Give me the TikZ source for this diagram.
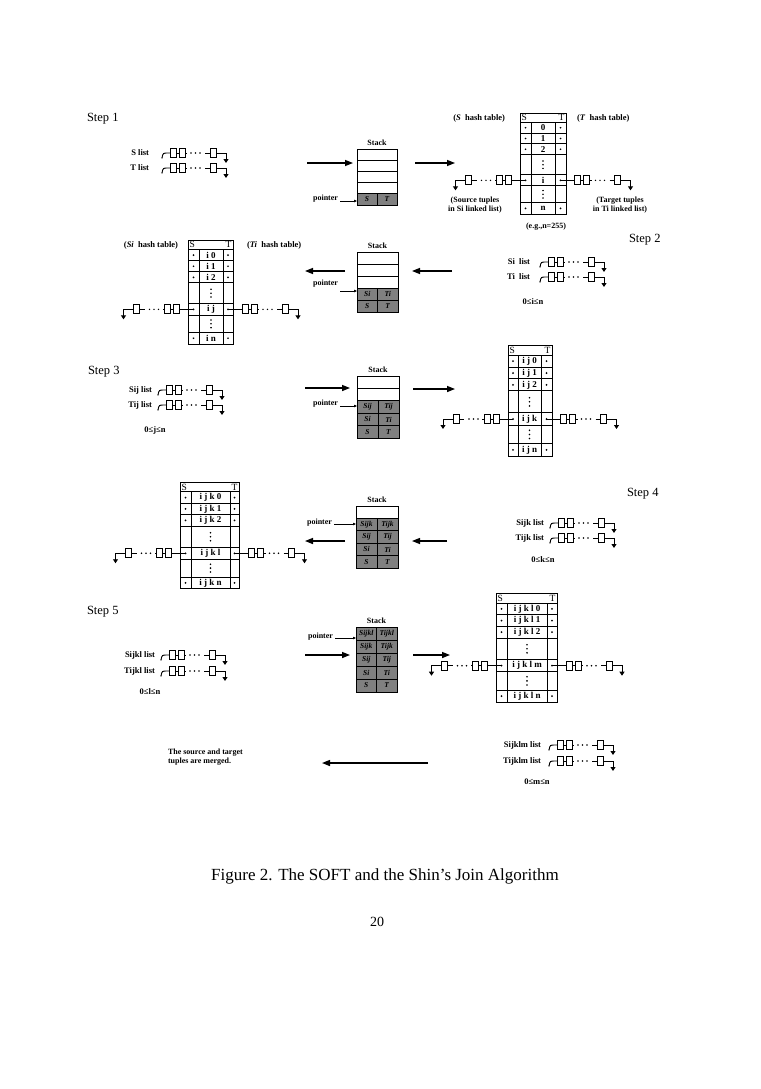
\documentclass[tikz,border=0pt]{standalone}
\usepackage{fontspec}
\setmainfont{Liberation Serif}
\usetikzlibrary{arrows.meta}
\newcommand\chainbody{%
 \draw[ln] (0,-4.5) rectangle (6,4.5);
 \draw[ln] (6,0)--(9,0);
 \draw[ln] (9,-4.5) rectangle (15,4.5);
 \draw[ln] (15,0)--(17,0);
 \fill (21,0) circle[radius=0.8pt] (25.5,0) circle[radius=0.8pt] (30,0) circle[radius=0.8pt];
 \draw[ln] (35,0)--(40,0);
 \draw[ln] (40,-4.5) rectangle (46,4.5);
 \draw[ln,-{Triangle[length=4pt,width=5pt]}] (46,0)--(56,0)--(56,10);
}
\newcommand\vdt[2]{\fill (#1,#2-4) circle[radius=0.9pt] (#1,#2) circle[radius=0.9pt] (#1,#2+4) circle[radius=0.9pt];}
\tikzset{
  every node/.style={inner sep=0pt, outer sep=0pt},
  ln/.style={line width=0.9pt},
  tabl/.style={line width=0.9pt},
  shade/.style={fill=black!50},
  lbl/.style={font=\bfseries\fontsize{8.5}{10}\selectfont},
  small/.style={font=\bfseries\fontsize{8}{9}\selectfont},
  steplbl/.style={font=\fontsize{12.5}{14}\selectfont, anchor=west},
  hdr/.style={font=\fontsize{9.5}{10}\selectfont},
  rowt/.style={font=\bfseries\fontsize{9}{10}\selectfont},
  cellt/.style={font=\bfseries\itshape\fontsize{7.5}{8}\selectfont},
  bigarr/.style={line width=1.4pt, -{Triangle[length=8pt,width=6pt]}},
  ptr/.style={line width=0.6pt, -{Triangle[length=3pt,width=2.5pt]}},
  tchain/.pic={\draw[ln] (0,0)--(14,0); \begin{scope}[shift={(14,0)}]\chainbody\end{scope}},
  slist/.pic={\fill (-8,5) circle[radius=0.7pt]; \draw[ln] (-8,5) .. controls (-7,0) .. (-2,0) -- (0,0); \chainbody},
}
% hash table: name, x, y, Lw, Mw, Rw, yscale, prefix, key
\newcommand\htab[9]{%
\begin{scope}[shift={(#2,#3)},yscale=#7]
\pgfmathsetmacro\tw{#4+#5+#6}
\pgfmathsetmacro\ta{#4}
\pgfmathsetmacro\tb{#4+#5}
\pgfmathsetmacro\tc{#4+#5/2}
\pgfmathsetmacro\tr{#4+#5+#6/2}
\pgfmathsetmacro\tl{#4/2}
\draw[tabl] (0,0) rectangle (\tw,108);
\foreach \yy in {10,21.5,33,44.5,66,78,96} \draw[tabl] (0,\yy)--(\tw,\yy);
\draw[tabl] (\ta,10)--(\ta,108) (\tb,10)--(\tb,108);
\node[hdr,anchor=west] (#1-S) at (1.5,5) {S};
\node[hdr,anchor=east] (#1-T) at (\tw-1.5,5) {T};
\node[rowt] (#1-r0) at (\tc,15.75) {#80};
\node[rowt] (#1-r1) at (\tc,27.25) {#81};
\node[rowt] (#1-r2) at (\tc,38.75) {#82};
\node[rowt] (#1-rk) at (\tc,72) {#8#9};
\node[rowt] (#1-rn) at (\tc,102) {#8n};
\vdt{\tc}{55.25}
\vdt{\tc}{87}
\foreach \yy in {15.75,27.25,38.75,72,102} {\fill (\tl,\yy) circle[radius=1pt]; \fill (\tr,\yy) circle[radius=1pt];}
\coordinate (#1-l) at (\tl,72);
\coordinate (#1-r) at (\tr,72);
\end{scope}}
% stack: name, x, y, w, rowh
\newcommand\stk[5]{%
\node[draw,tabl,anchor=north west,minimum width=#4pt,minimum height={5*#5*1pt}] (#1) at (#2,#3) {};
\foreach \k in {1,2,3,4} \draw[tabl] (#2,{#3+\k*#5})--({#2+#4},{#3+\k*#5});
\node[small] (#1-lab) at ({#2+#4/2},{#3-6}) {Stack};}
% shaded row: x,y,w,h,S,T
\newcommand\shrow[6]{%
\draw[tabl,shade] (#1,#2) rectangle ({#1+#3/2},{#2+#4});
\draw[tabl,shade] ({#1+#3/2},#2) rectangle ({#1+#3},{#2+#4});
\node[cellt] at ({#1+#3/4},{#2+#4/2}) {#5};
\node[cellt] at ({#1+3*#3/4},{#2+#4/2}) {#6};}
\begin{document}
\begin{tikzpicture}[x=1pt,y=-1pt]
\useasboundingbox (0,0) rectangle (760,1089);
\fill[white] (0,0) rectangle (760,1089);
% ---------- Step 1
\node[steplbl] (st1) at (87,119) {Step 1};
\node[lbl,anchor=east] (sl1) at (149,153) {S list};
\node[lbl,anchor=east] (tl1) at (149,168) {T list};
\pic at (170,153) {slist};
\pic at (170,168) {slist};
\stk{stk1}{357}{149}{40}{11.2}
\shrow{357}{193.8}{40}{11.2}{S}{T}
\node[small,anchor=east] (p1) at (338,199) {pointer};
\coordinate (p1a) at (340,201);
\draw[ptr] (p1a) -- (p1a -| stk1.west);
\coordinate (a1a) at (307,163); \coordinate (a1b) at (353,163);
\draw[bigarr] (a1a) -- (a1b);
\coordinate (a1c) at (415,163); \coordinate (a1d) at (455,163);
\draw[bigarr] (a1c) -- (a1d);
\htab{t1}{520}{113}{11}{24}{11}{0.935}{}{i}
\pic[xscale=-1] at (t1-l) {tchain};
\pic at (t1-r) {tchain};
\node[lbl,anchor=east] (sh1) at (505,118) {(\textit{S}\ \ hash table)};
\node[lbl,anchor=west] (th1) at (577,118) {(\textit{T}\ \ hash table)};
\node[small,align=center] (src1) at (475,205) {(Source tuples\\in Si linked list)};
\node[small,align=center] (tgt1) at (620,205) {(Target tuples\\in Ti linked list)};
\node[small] (eg1) at (546,227) {(e.g.,n=255)};
% ---------- Step 2
\node[steplbl] (st2) at (629,240) {Step 2};
\node[lbl,anchor=east] (sl2) at (530,262) {Si\ \ list};
\node[lbl,anchor=east] (tl2) at (530,277) {Ti\ \ list};
\pic at (548,262) {slist};
\pic at (548,277) {slist};
\node[lbl] (c2) at (533,302) {0≤i≤n};
\stk{stk2}{357}{252}{41}{12}
\shrow{357}{288}{41}{12}{Si}{Ti}
\shrow{357}{300}{41}{12}{S}{T}
\node[small,anchor=east] (p2) at (338,284) {pointer};
\coordinate (p2a) at (340,291);
\draw[ptr] (p2a) -- (p2a -| stk2.west);
\coordinate (a2a) at (345,271); \coordinate (a2b) at (305,271);
\draw[bigarr] (a2a) -- (a2b);
\coordinate (a2c) at (452,271); \coordinate (a2d) at (412,271);
\draw[bigarr] (a2c) -- (a2d);
\htab{t2}{188}{240}{11}{24}{10}{0.963}{i\ }{j}
\pic[xscale=-1] at (t2-l) {tchain};
\pic at (t2-r) {tchain};
\node[lbl,anchor=east] (sh2) at (178,245) {(\textit{Si}\ \ hash table)};
\node[lbl,anchor=west] (th2) at (247,245) {(\textit{Ti}\ \ hash table)};
% ---------- Step 3
\node[steplbl] (st3) at (88,372) {Step 3};
\node[lbl,anchor=east] (sl3) at (152,390) {Sij list};
\node[lbl,anchor=east] (tl3) at (152,405) {Tij list};
\pic at (166,390) {slist};
\pic at (166,405) {slist};
\node[lbl] (c3) at (155,430) {0≤j≤n};
\stk{stk3}{357}{376}{42}{12.4}
\shrow{357}{400.8}{42}{12.4}{Sij}{Tij}
\shrow{357}{413.2}{42}{12.4}{Si}{Ti}
\shrow{357}{425.6}{42}{12.4}{S}{T}
\node[small,anchor=east] (p3) at (338,404) {pointer};
\coordinate (p3a) at (340,406);
\draw[ptr] (p3a) -- (p3a -| stk3.west);
\coordinate (a3a) at (305,388); \coordinate (a3b) at (350,388);
\draw[bigarr] (a3a) -- (a3b);
\coordinate (a3c) at (413,389); \coordinate (a3d) at (455,389);
\draw[bigarr] (a3c) -- (a3d);
\htab{t3}{508}{345}{10}{23}{11}{1.028}{i\ j\ }{k}
\pic[xscale=-1] at (t3-l) {tchain};
\pic at (t3-r) {tchain};
% ---------- Step 4
\node[steplbl] (st4) at (627,494) {Step 4};
\node[lbl,anchor=east] (sl4) at (544,523) {Sijk list};
\node[lbl,anchor=east] (tl4) at (544,538) {Tijk list};
\pic at (558,523) {slist};
\pic at (558,538) {slist};
\node[lbl] (c4) at (543,560) {0≤k≤n};
\stk{stk4}{356}{506}{42}{12.4}
\shrow{356}{518.4}{42}{12.4}{Sijk}{Tijk}
\shrow{356}{530.8}{42}{12.4}{Sij}{Tij}
\shrow{356}{543.2}{42}{12.4}{Si}{Ti}
\shrow{356}{555.6}{42}{12.4}{S}{T}
\node[small,anchor=east] (p4) at (332,523) {pointer};
\coordinate (p4a) at (334,524);
\draw[ptr] (p4a) -- (p4a -| stk4.west);
\coordinate (a4a) at (345,541); \coordinate (a4b) at (305,541);
\draw[bigarr] (a4a) -- (a4b);
\coordinate (a4c) at (447,541); \coordinate (a4d) at (412,541);
\draw[bigarr] (a4c) -- (a4d);
\htab{t4}{180}{482}{11}{39}{9}{0.99}{i\ j\ k\ }{l}
\pic[xscale=-1] at (t4-l) {tchain};
\pic at (t4-r) {tchain};
% ---------- Step 5
\node[steplbl] (st5) at (87,612) {Step 5};
\node[lbl,anchor=east] (sl5) at (155,655) {Sijkl list};
\node[lbl,anchor=east] (tl5) at (155,671) {Tijkl list};
\pic at (169,655) {slist};
\pic at (169,671) {slist};
\node[lbl] (c5) at (150,692) {0≤l≤n};
\stk{stk5}{356}{627}{41}{13}
\shrow{356}{627}{41}{13}{Sijkl}{Tijkl}
\shrow{356}{640}{41}{13}{Sijk}{Tijk}
\shrow{356}{653}{41}{13}{Sij}{Tij}
\shrow{356}{666}{41}{13}{Si}{Ti}
\shrow{356}{679}{41}{13}{S}{T}
\node[small,anchor=east] (p5) at (333,637) {pointer};
\coordinate (p5a) at (335,638);
\draw[ptr] (p5a) -- (p5a -| stk5.west);
\coordinate (a5a) at (305,655); \coordinate (a5b) at (350,655);
\draw[bigarr] (a5a) -- (a5b);
\coordinate (a5c) at (413,655); \coordinate (a5d) at (450,655);
\draw[bigarr] (a5c) -- (a5d);
\htab{t5}{496}{593}{11}{40}{10}{1.01}{i\ j\ k\ l\ }{m}
\pic[xscale=-1] at (t5-l) {tchain};
\pic at (t5-r) {tchain};
% ---------- Final
\node[small,align=left,anchor=west] (mrg) at (168,757) {The source and target\\tuples are merged.};
\coordinate (a6a) at (428,763); \coordinate (a6b) at (322,763);
\draw[bigarr] (a6a) -- (a6b);
\node[lbl,anchor=east] (sl6) at (541,745) {Sijklm list};
\node[lbl,anchor=east] (tl6) at (541,761) {Tijklm list};
\pic at (557,745) {slist};
\pic at (557,761) {slist};
\node[lbl] (c6) at (537,782) {0≤m≤n};
% ---------- Caption
\node[font=\fontsize{17}{19}\selectfont] (cap) at (385,876) {Figure 2. The SOFT and the Shin's Join Algorithm};
\node[font=\fontsize{14}{16}\selectfont] (pg) at (377,922) {20};
\end{tikzpicture}
\end{document}
